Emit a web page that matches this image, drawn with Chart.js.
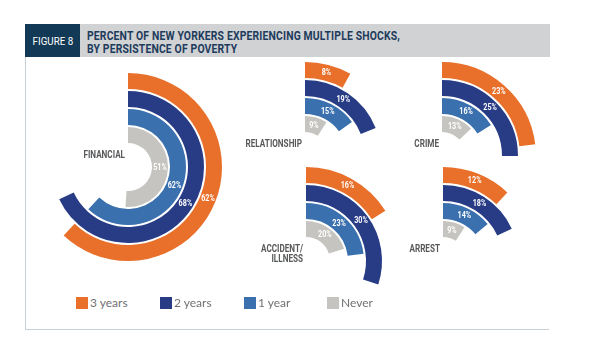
<!DOCTYPE html>
<html lang="en">
<head>
<meta charset="UTF-8">
<title>Figure 8 - Multiple shocks by persistence of poverty</title>
<script src="https://cdn.jsdelivr.net/npm/chart.js"></script>
<style>
    body {
        margin: 0;
        background: #fff;
        width: 596px;
        height: 358px;
        position: relative;
        overflow: hidden;
        font-family: "Roboto", "Liberation Sans", sans-serif;
    }
    .header {
        position: absolute;
        left: 25px; top: 24px;
        width: 525px; height: 33px;
        background: #d1d2d4;
    }
    .fig {
        position: absolute;
        left: 0; top: 0;
        width: 55px; height: 33px;
        background: #123a56;
        color: #fff;
        font-size: 11.5px;
        line-height: 34px;
        text-align: center;
    }
    .fig span { display: inline-block; transform: scaleX(0.85); }
    .title {
        position: absolute;
        left: 62px; top: 5px;
        font-weight: bold;
        font-size: 12.5px;
        line-height: 13px;
        color: #1d3b5c;
        letter-spacing: 0.2px;
        white-space: nowrap;
        transform: scaleX(0.83);
        transform-origin: 0 0;
    }
    .frame {
        position: absolute;
        left: 25px; top: 57px;
        width: 523px; height: 272px;
        border-left: 1px solid #c9d0d8;
        border-bottom: 1px solid #c9d0d8;
    }
    canvas { position: absolute; }
    .legend-item {
        position: absolute;
        top: 296px;
        font-family: "Lato", "Open Sans", sans-serif;
        font-size: 12px;
        color: #707173;
        line-height: 14px;
        white-space: nowrap;
    }
    .legend-item span {
        display: inline-block;
        width: 12px; height: 12px;
        vertical-align: -2px;
        margin-right: 2px;
    }
</style>
</head>
<body>
    <div class="frame"></div>
    <div class="header">
        <div class="fig"><span>FIGURE 8</span></div>
        <div class="title">PERCENT OF NEW YORKERS EXPERIENCING MULTIPLE SHOCKS,<br>BY PERSISTENCE OF POVERTY</div>
    </div>
    <div id="charts"></div>
    <div id="legend"></div>

<script>
    // data
    const seriesNames = ["3 years", "2 years", "1 year", "Never"];
    const seriesColors = ["#e8702a", "#283b85", "#3a70ae", "#c6c4c0"];
    const categories = [["FINANCIAL"], ["RELATIONSHIP"], ["CRIME"], ["ACCIDENT/", "ILLNESS"], ["ARREST"]];
    const threeYears = [62, 8, 23, 16, 12];
    const twoYears = [68, 19, 25, 30, 18];
    const oneYear = [62, 15, 16, 23, 14];
    const never = [51, 9, 13, 20, 9];

    // layout: centre of each radial chart
    const centres = [[128, 167], [305, 156], [442, 156], [306, 261], [443, 261]];
    const legendLeft = [76, 160, 244, 327];
    const outerR = 94, innerR = 24, ringW = 16, gapW = 2;
    const size = 200;

    const labelFont = "bold 11px Roboto, 'Liberation Sans', sans-serif";
    const valueFont = "bold 9px Roboto, 'Liberation Sans', sans-serif";

    function makeDatasets(i) {
        const values = [threeYears[i], twoYears[i], oneYear[i], never[i]];
        const ds = [];
        values.forEach((v, k) => {
            if (k > 0) {
                ds.push({ data: [1], backgroundColor: ["rgba(0,0,0,0)"], borderWidth: 0, weight: gapW, spacer: true });
            }
            ds.push({
                label: seriesNames[k],
                data: [v, 100 - v],
                backgroundColor: [seriesColors[k], "rgba(0,0,0,0)"],
                borderWidth: 0,
                weight: ringW
            });
        });
        return ds;
    }

    // squeezed text, the original uses a condensed face
    function narrowText(ctx, t, x, y, sx) {
        ctx.save();
        ctx.translate(x, y);
        ctx.scale(sx, 1);
        ctx.fillText(t, 0, 0);
        ctx.restore();
    }

    function labelPlugin(lines) {
        return {
            id: "arcLabels",
            afterDatasetsDraw(chart) {
                const ctx = chart.ctx;
                ctx.save();
                ctx.textBaseline = "middle";
                ctx.font = valueFont;
                ctx.fillStyle = "#ffffff";
                ctx.textAlign = "center";
                let cx = 0, cy = 0;
                chart.data.datasets.forEach((ds, di) => {
                    if (ds.spacer) return;
                    const arc = chart.getDatasetMeta(di).data[0];
                    cx = arc.x; cy = arc.y;
                    const mid = (arc.startAngle + arc.endAngle) / 2;
                    const r = (arc.innerRadius + arc.outerRadius) / 2;
                    narrowText(ctx, ds.data[0] + "%", arc.x + Math.cos(mid) * r, arc.y + Math.sin(mid) * r, 0.8);
                });
                ctx.font = labelFont;
                ctx.fillStyle = "#58595b";
                ctx.textAlign = "right";
                lines.forEach((t, j) => {
                    narrowText(ctx, t, cx - 3, cy - 12 + j * 10.5, 0.74);
                });
                ctx.restore();
            }
        };
    }

    const holder = document.getElementById("charts");
    categories.forEach((cat, i) => {
        const cv = document.createElement("canvas");
        cv.width = size; cv.height = size;
        cv.style.left = (centres[i][0] - size / 2) + "px";
        cv.style.top = (centres[i][1] - size / 2) + "px";
        holder.appendChild(cv);
        new Chart(cv.getContext("2d"), {
            type: "doughnut",
            data: { labels: ["value", "rest"], datasets: makeDatasets(i) },
            options: {
                responsive: false,
                animation: false,
                events: [],
                radius: outerR,
                cutout: (innerR / outerR * 100) + "%",
                hoverOffset: 0,
                layout: { padding: 0 },
                plugins: { legend: { display: false }, tooltip: { enabled: false } }
            },
            plugins: [labelPlugin(cat)]
        });
    });

    const legend = document.getElementById("legend");
    seriesNames.forEach((name, k) => {
        const item = document.createElement("div");
        item.className = "legend-item";
        item.style.left = legendLeft[k] + "px";
        item.innerHTML = '<span style="background:' + seriesColors[k] + '"></span>' + name;
        legend.appendChild(item);
    });
</script>
</body>
</html>
